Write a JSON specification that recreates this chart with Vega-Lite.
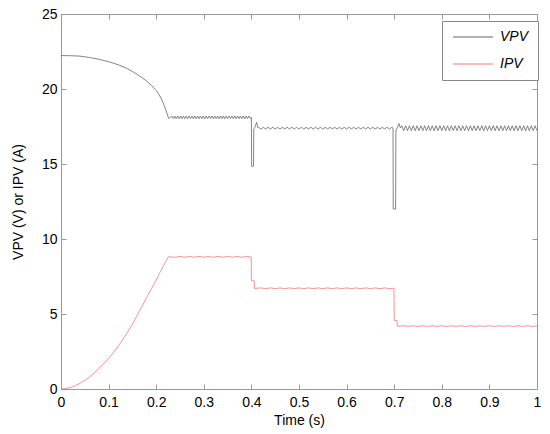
{
  "$schema": "https://vega.github.io/schema/vega-lite/v6.json",
  "width": 476,
  "height": 375,
  "autosize": {"type": "none"},
  "padding": {"left": 61, "top": 14, "right": 13, "bottom": 45},
  "background": "white",
  "config": {
    "font": "Liberation Sans",
    "view": {"stroke": "#999999", "strokeWidth": 1},
    "axis": {
      "domainColor": "#999999",
      "tickColor": "#999999",
      "tickSize": -5,
      "labelPadding": 9,
      "labelFontSize": 14,
      "labelColor": "#000000",
      "labelFlush": false,
      "labelOverlap": false,
      "titleFontSize": 14,
      "titleFontWeight": "normal",
      "titleColor": "#000000",
      "grid": false
    }
  },
  "datasets": {
    "vpv": [
      {"t":0,"y":22.23},{"t":0.02,"y":22.22},{"t":0.04,"y":22.19},{"t":0.06,"y":22.1},{"t":0.08,"y":21.98},{"t":0.1,"y":21.82},{"t":0.12,"y":21.62},{"t":0.14,"y":21.35},{"t":0.16,"y":20.98},{"t":0.17,"y":20.76},{"t":0.18,"y":20.52},{"t":0.19,"y":20.24},{"t":0.2,"y":19.9},{"t":0.205,"y":19.68},{"t":0.21,"y":19.4},{"t":0.215,"y":19.05},{"t":0.22,"y":18.62},{"t":0.226,"y":18.05},{"t":0.23,"y":18.1},
      {"t":0.233,"y":18.2},{"t":0.236,"y":18.02},{"t":0.239,"y":18.2},{"t":0.242,"y":18.02},{"t":0.245,"y":18.2},{"t":0.248,"y":18.02},{"t":0.251,"y":18.2},{"t":0.254,"y":18.02},{"t":0.257,"y":18.2},{"t":0.26,"y":18.02},{"t":0.263,"y":18.2},{"t":0.266,"y":18.02},{"t":0.269,"y":18.2},{"t":0.272,"y":18.02},{"t":0.275,"y":18.2},{"t":0.278,"y":18.02},{"t":0.281,"y":18.2},{"t":0.284,"y":18.02},{"t":0.287,"y":18.2},{"t":0.29,"y":18.02},{"t":0.293,"y":18.2},{"t":0.296,"y":18.02},{"t":0.299,"y":18.2},{"t":0.302,"y":18.02},{"t":0.305,"y":18.2},{"t":0.308,"y":18.02},{"t":0.311,"y":18.2},{"t":0.314,"y":18.02},{"t":0.317,"y":18.2},{"t":0.32,"y":18.02},{"t":0.323,"y":18.2},{"t":0.326,"y":18.02},{"t":0.329,"y":18.2},{"t":0.332,"y":18.02},{"t":0.335,"y":18.2},{"t":0.338,"y":18.02},{"t":0.341,"y":18.2},{"t":0.344,"y":18.02},{"t":0.347,"y":18.2},{"t":0.35,"y":18.02},{"t":0.353,"y":18.2},{"t":0.356,"y":18.02},{"t":0.359,"y":18.2},{"t":0.362,"y":18.02},{"t":0.365,"y":18.2},{"t":0.368,"y":18.02},{"t":0.371,"y":18.2},{"t":0.374,"y":18.02},{"t":0.377,"y":18.2},{"t":0.38,"y":18.02},{"t":0.383,"y":18.2},{"t":0.386,"y":18.02},{"t":0.389,"y":18.2},{"t":0.392,"y":18.02},{"t":0.395,"y":18.2},{"t":0.398,"y":18.02},
      {"t":0.4,"y":18.1},{"t":0.4005,"y":14.85},{"t":0.4045,"y":14.85},{"t":0.405,"y":17.3},{"t":0.408,"y":17.5},{"t":0.411,"y":17.78},{"t":0.4135,"y":17.42},
      {"t":0.415,"y":17.45},{"t":0.42,"y":17.33},{"t":0.425,"y":17.45},{"t":0.43,"y":17.33},{"t":0.435,"y":17.45},{"t":0.44,"y":17.33},{"t":0.445,"y":17.45},{"t":0.45,"y":17.33},{"t":0.455,"y":17.45},{"t":0.46,"y":17.33},{"t":0.465,"y":17.45},{"t":0.47,"y":17.33},{"t":0.475,"y":17.45},{"t":0.48,"y":17.33},{"t":0.485,"y":17.45},{"t":0.49,"y":17.33},{"t":0.495,"y":17.45},{"t":0.5,"y":17.33},{"t":0.505,"y":17.45},{"t":0.51,"y":17.33},{"t":0.515,"y":17.45},{"t":0.52,"y":17.33},{"t":0.525,"y":17.45},{"t":0.53,"y":17.33},{"t":0.535,"y":17.45},{"t":0.54,"y":17.33},{"t":0.545,"y":17.45},{"t":0.55,"y":17.33},{"t":0.555,"y":17.45},{"t":0.56,"y":17.33},{"t":0.565,"y":17.45},{"t":0.57,"y":17.33},{"t":0.575,"y":17.45},{"t":0.58,"y":17.33},{"t":0.585,"y":17.45},{"t":0.59,"y":17.33},{"t":0.595,"y":17.45},{"t":0.6,"y":17.33},{"t":0.605,"y":17.45},{"t":0.61,"y":17.33},{"t":0.615,"y":17.45},{"t":0.62,"y":17.33},{"t":0.625,"y":17.45},{"t":0.63,"y":17.33},{"t":0.635,"y":17.45},{"t":0.64,"y":17.33},{"t":0.645,"y":17.45},{"t":0.65,"y":17.33},{"t":0.655,"y":17.45},{"t":0.66,"y":17.33},{"t":0.665,"y":17.45},{"t":0.67,"y":17.33},{"t":0.675,"y":17.45},{"t":0.68,"y":17.33},{"t":0.685,"y":17.45},{"t":0.69,"y":17.33},{"t":0.695,"y":17.45},
      {"t":0.6975,"y":17.4},{"t":0.698,"y":12.0},{"t":0.703,"y":12.0},{"t":0.7035,"y":17.2},{"t":0.707,"y":17.45},{"t":0.71,"y":17.7},{"t":0.713,"y":17.4},
      {"t":0.716,"y":17.55},{"t":0.72,"y":17.22},{"t":0.724,"y":17.55},{"t":0.728,"y":17.22},{"t":0.732,"y":17.55},{"t":0.736,"y":17.22},{"t":0.74,"y":17.55},{"t":0.744,"y":17.22},{"t":0.748,"y":17.55},{"t":0.752,"y":17.22},{"t":0.756,"y":17.55},{"t":0.76,"y":17.22},{"t":0.764,"y":17.55},{"t":0.768,"y":17.22},{"t":0.772,"y":17.55},{"t":0.776,"y":17.22},{"t":0.78,"y":17.55},{"t":0.784,"y":17.22},{"t":0.788,"y":17.55},{"t":0.792,"y":17.22},{"t":0.796,"y":17.55},{"t":0.8,"y":17.22},{"t":0.804,"y":17.55},{"t":0.808,"y":17.22},{"t":0.812,"y":17.55},{"t":0.816,"y":17.22},{"t":0.82,"y":17.55},{"t":0.824,"y":17.22},{"t":0.828,"y":17.55},{"t":0.832,"y":17.22},{"t":0.836,"y":17.55},{"t":0.84,"y":17.22},{"t":0.844,"y":17.55},{"t":0.848,"y":17.22},{"t":0.852,"y":17.55},{"t":0.856,"y":17.22},{"t":0.86,"y":17.55},{"t":0.864,"y":17.22},{"t":0.868,"y":17.55},{"t":0.872,"y":17.22},{"t":0.876,"y":17.55},{"t":0.88,"y":17.22},{"t":0.884,"y":17.55},{"t":0.888,"y":17.22},{"t":0.892,"y":17.55},{"t":0.896,"y":17.22},{"t":0.9,"y":17.55},{"t":0.904,"y":17.22},{"t":0.908,"y":17.55},{"t":0.912,"y":17.22},{"t":0.916,"y":17.55},{"t":0.92,"y":17.22},{"t":0.924,"y":17.55},{"t":0.928,"y":17.22},{"t":0.932,"y":17.55},{"t":0.936,"y":17.22},{"t":0.94,"y":17.55},{"t":0.944,"y":17.22},{"t":0.948,"y":17.55},{"t":0.952,"y":17.22},{"t":0.956,"y":17.55},{"t":0.96,"y":17.22},{"t":0.964,"y":17.55},{"t":0.968,"y":17.22},{"t":0.972,"y":17.55},{"t":0.976,"y":17.22},{"t":0.98,"y":17.55},{"t":0.984,"y":17.22},{"t":0.988,"y":17.55},{"t":0.992,"y":17.22},{"t":0.996,"y":17.55},{"t":1.0,"y":17.22}
    ],
    "ipv": [
      {"t":0,"y":0},{"t":0.01,"y":0.03},{"t":0.02,"y":0.1},{"t":0.03,"y":0.22},{"t":0.04,"y":0.38},{"t":0.05,"y":0.58},{"t":0.06,"y":0.8},{"t":0.07,"y":1.08},{"t":0.08,"y":1.4},{"t":0.09,"y":1.7},{"t":0.1,"y":2.05},{"t":0.11,"y":2.43},{"t":0.12,"y":2.85},{"t":0.13,"y":3.3},{"t":0.14,"y":3.8},{"t":0.15,"y":4.33},{"t":0.16,"y":4.9},{"t":0.17,"y":5.5},{"t":0.18,"y":6.1},{"t":0.19,"y":6.68},{"t":0.2,"y":7.27},{"t":0.21,"y":7.9},{"t":0.22,"y":8.5},{"t":0.226,"y":8.82},
      {"t":0.24,"y":8.78},{"t":0.25,"y":8.84},{"t":0.26,"y":8.78},{"t":0.27,"y":8.84},{"t":0.28,"y":8.78},{"t":0.29,"y":8.84},{"t":0.3,"y":8.78},{"t":0.31,"y":8.84},{"t":0.32,"y":8.78},{"t":0.33,"y":8.84},{"t":0.34,"y":8.78},{"t":0.35,"y":8.84},{"t":0.36,"y":8.78},{"t":0.37,"y":8.84},{"t":0.38,"y":8.78},{"t":0.39,"y":8.84},{"t":0.3995,"y":8.8},
      {"t":0.4,"y":7.22},{"t":0.406,"y":7.22},{"t":0.4065,"y":6.7},
      {"t":0.42,"y":6.74},{"t":0.43,"y":6.69},{"t":0.44,"y":6.74},{"t":0.45,"y":6.69},{"t":0.46,"y":6.74},{"t":0.47,"y":6.69},{"t":0.48,"y":6.74},{"t":0.49,"y":6.69},{"t":0.5,"y":6.74},{"t":0.51,"y":6.69},{"t":0.52,"y":6.74},{"t":0.53,"y":6.69},{"t":0.54,"y":6.74},{"t":0.55,"y":6.69},{"t":0.56,"y":6.74},{"t":0.57,"y":6.69},{"t":0.58,"y":6.74},{"t":0.59,"y":6.69},{"t":0.6,"y":6.74},{"t":0.61,"y":6.69},{"t":0.62,"y":6.74},{"t":0.63,"y":6.69},{"t":0.64,"y":6.74},{"t":0.65,"y":6.69},{"t":0.66,"y":6.74},{"t":0.67,"y":6.69},{"t":0.68,"y":6.74},{"t":0.69,"y":6.69},{"t":0.6995,"y":6.72},
      {"t":0.7,"y":4.57},{"t":0.706,"y":4.57},{"t":0.7065,"y":4.18},
      {"t":0.72,"y":4.22},{"t":0.73,"y":4.17},{"t":0.74,"y":4.22},{"t":0.75,"y":4.17},{"t":0.76,"y":4.22},{"t":0.77,"y":4.17},{"t":0.78,"y":4.22},{"t":0.79,"y":4.17},{"t":0.8,"y":4.22},{"t":0.81,"y":4.17},{"t":0.82,"y":4.22},{"t":0.83,"y":4.17},{"t":0.84,"y":4.22},{"t":0.85,"y":4.17},{"t":0.86,"y":4.22},{"t":0.87,"y":4.17},{"t":0.88,"y":4.22},{"t":0.89,"y":4.17},{"t":0.9,"y":4.22},{"t":0.91,"y":4.17},{"t":0.92,"y":4.22},{"t":0.93,"y":4.17},{"t":0.94,"y":4.22},{"t":0.95,"y":4.17},{"t":0.96,"y":4.22},{"t":0.97,"y":4.17},{"t":0.98,"y":4.22},{"t":0.99,"y":4.17},{"t":1.0,"y":4.2}
    ]
  },
  "layer": [
    {
      "data": {"name": "vpv"},
      "mark": {"type": "line", "strokeWidth": 0.8, "clip": true},
      "encoding": {
        "x": {"field": "t", "type": "quantitative",
              "scale": {"domain": [0, 1], "nice": false},
              "axis": {"values": [0,0.1,0.2,0.3,0.4,0.5,0.6,0.7,0.8,0.9,1], "format": "~g", "title": "Time (s)", "labelPadding": 11, "titlePadding": 4}},
        "y": {"field": "y", "type": "quantitative",
              "scale": {"domain": [0, 25], "nice": false},
              "axis": {"values": [0,5,10,15,20,25], "title": "VPV (V) or IPV (A)", "titlePadding": 16}},
        "color": {"datum": "VPV", "type": "nominal",
                  "scale": {"domain": ["VPV", "IPV"], "range": ["#666666", "#f07878"]},
                  "legend": {"orient": "none", "legendX": 381, "legendY": 7, "title": null,
                             "symbolType": "M-1,0H7", "symbolSize": 100, "symbolStrokeWidth": 1,
                             "labelFontSize": 14, "labelFontStyle": "italic", "labelOffset": 35,
                             "rowPadding": 13,
                             "strokeColor": "#888888", "fillColor": "white", "padding": 9, "cornerRadius": 0}}
      }
    },
    {
      "data": {"name": "ipv"},
      "mark": {"type": "line", "strokeWidth": 0.8, "clip": true},
      "encoding": {
        "x": {"field": "t", "type": "quantitative",
              "axis": {"orient": "top", "values": [0,0.1,0.2,0.3,0.4,0.5,0.6,0.7,0.8,0.9,1], "labels": false, "title": null}},
        "y": {"field": "y", "type": "quantitative",
              "axis": {"orient": "right", "values": [0,5,10,15,20,25], "labels": false, "title": null}},
        "color": {"datum": "IPV", "type": "nominal"}
      }
    }
  ],
  "resolve": {"axis": {"x": "independent", "y": "independent"}}
}
